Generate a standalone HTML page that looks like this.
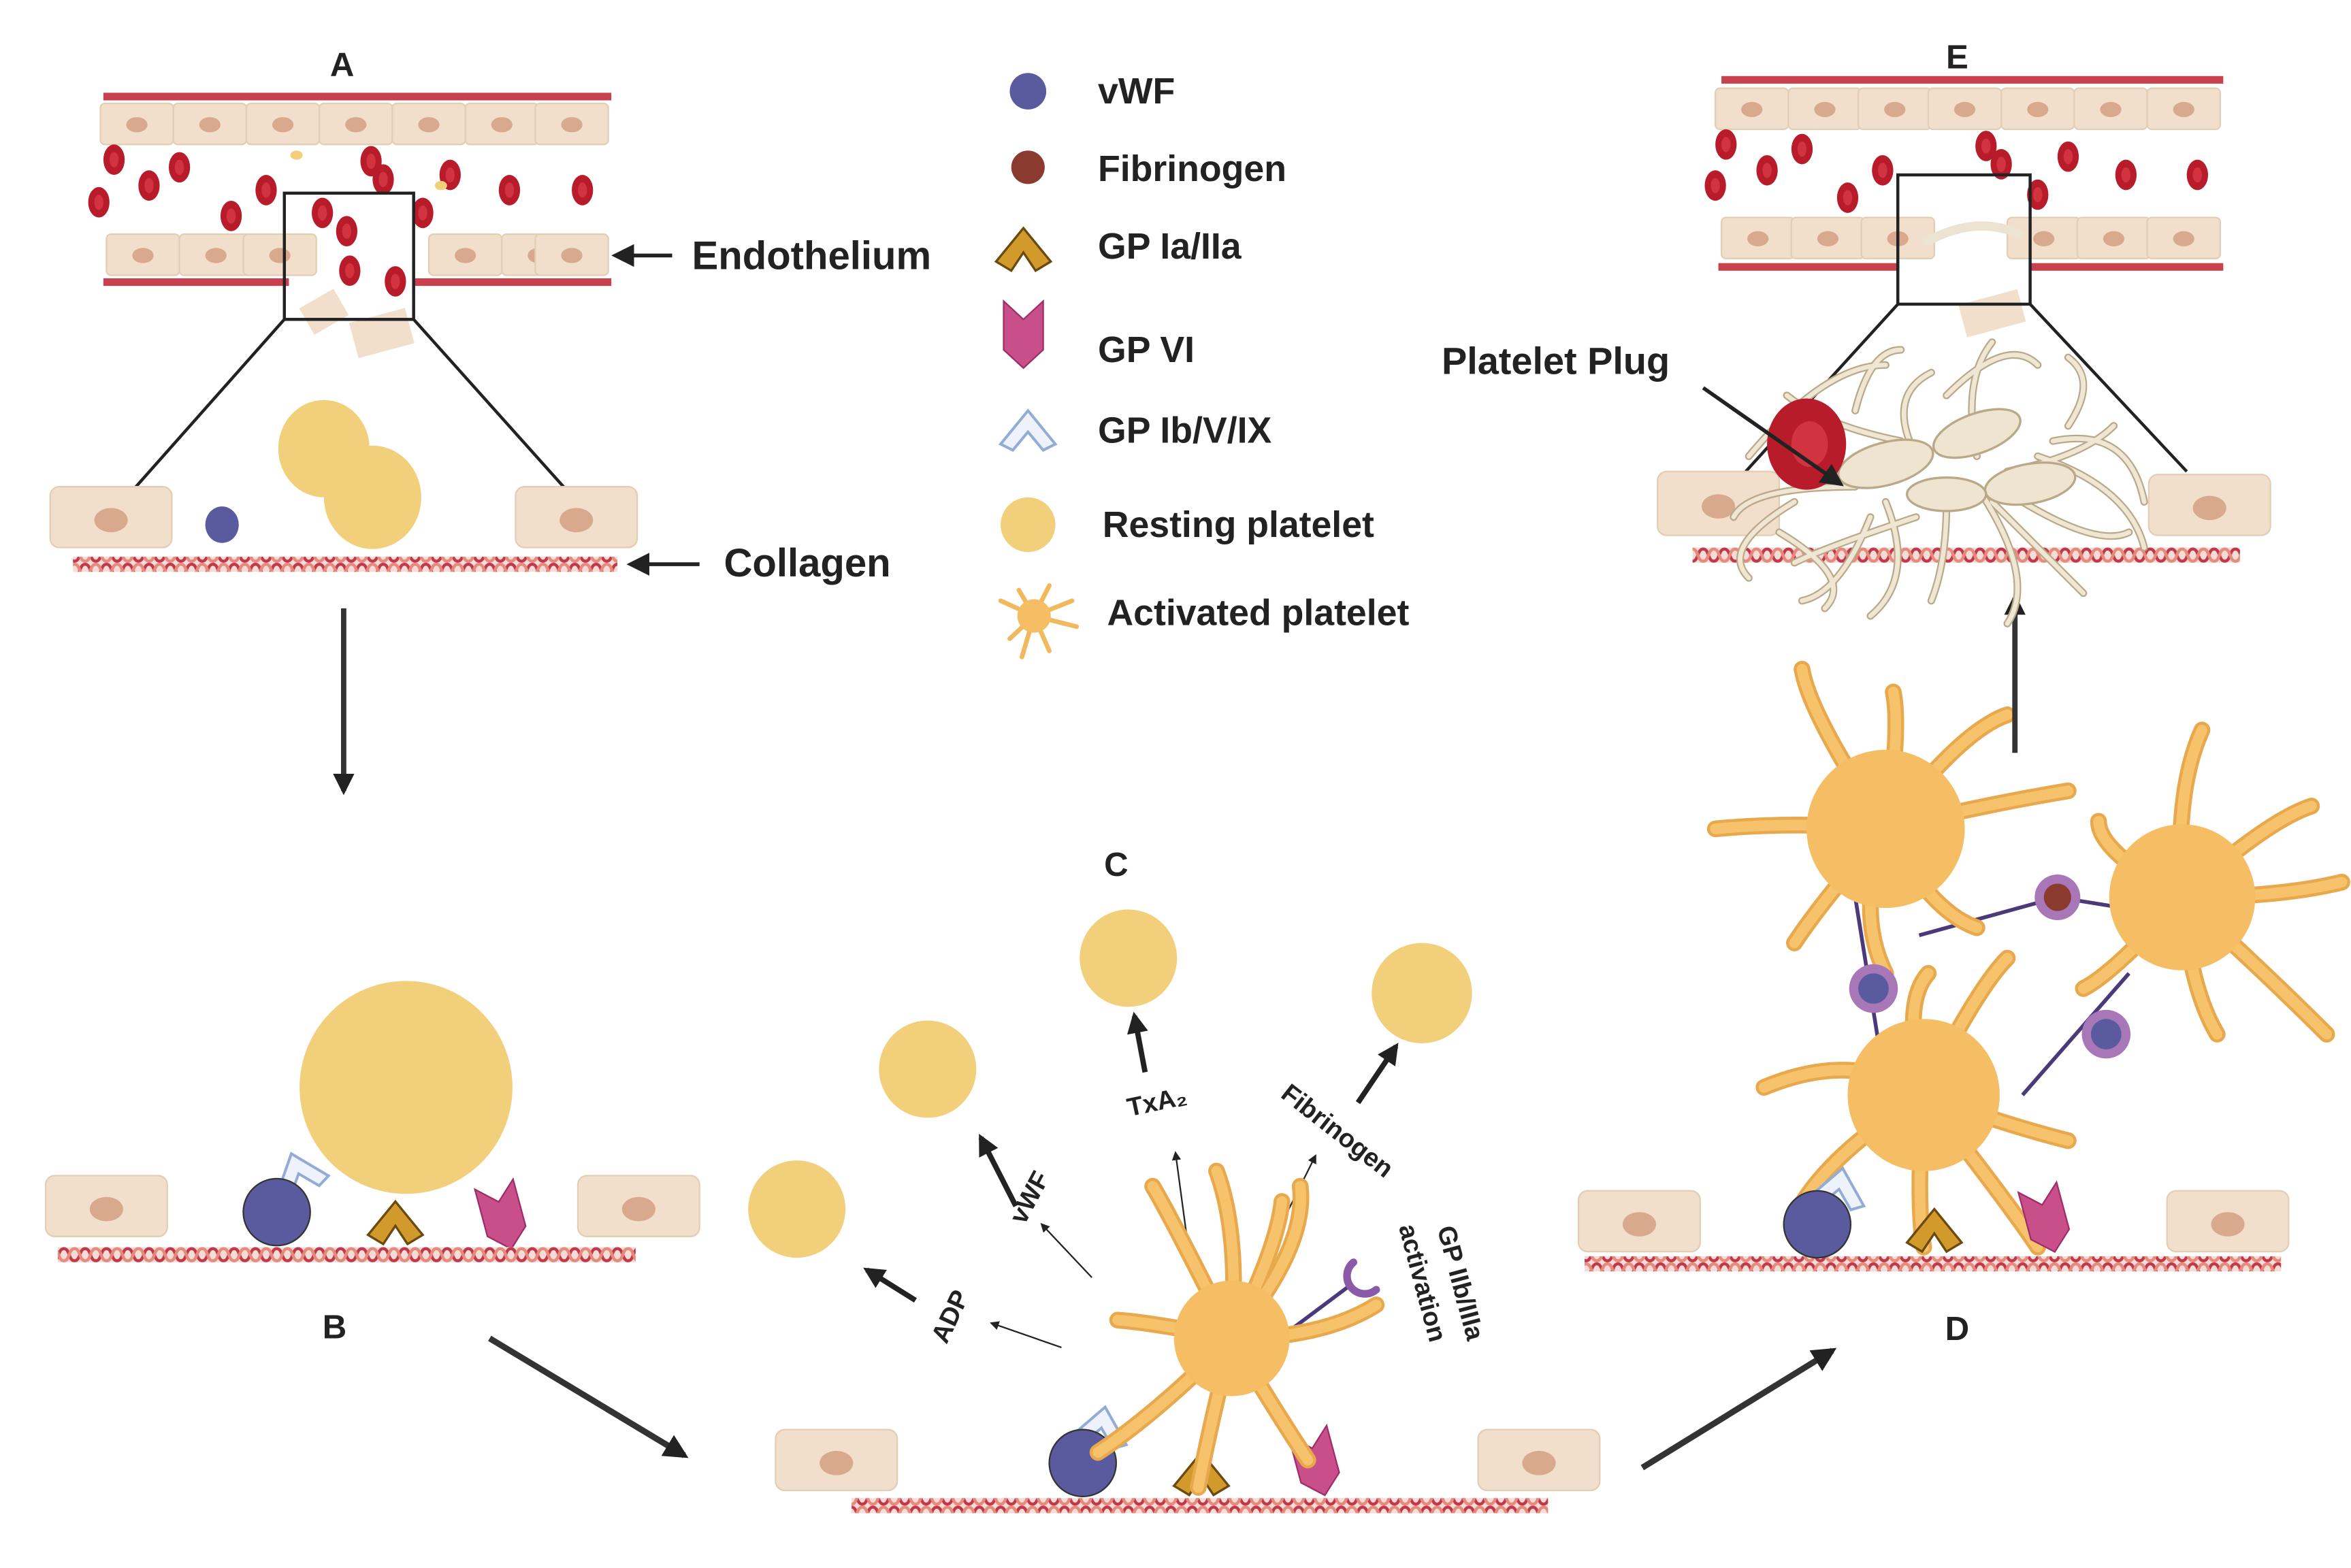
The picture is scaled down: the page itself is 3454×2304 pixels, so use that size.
<!DOCTYPE html>
<html><head><meta charset="utf-8">
<style>
html,body{margin:0;padding:0;background:#fff;}
svg{display:block;}
text{font-family:"Liberation Sans",sans-serif;font-weight:bold;fill:#222;}
</style></head>
<body>
<svg width="3454" height="2304" viewBox="0 0 1546 1031" preserveAspectRatio="none" xmlns="http://www.w3.org/2000/svg">
<defs>
<pattern id="col" width="14" height="10" patternUnits="userSpaceOnUse">
<rect width="14" height="10" fill="#f6dcd6"/>
<path d="M0 1 C4 1 3 9 7 9 S10 1 14 1" stroke="#c0394a" stroke-width="2" fill="none"/>
<path d="M0 9 C4 9 3 1 7 1 S10 9 14 9" stroke="#e58a7c" stroke-width="2" fill="none"/>
</pattern>
<marker id="ah" viewBox="0 0 10 10" refX="8" refY="5" markerWidth="4" markerHeight="4" orient="auto"><path d="M0 0L10 5L0 10z" fill="#222"/></marker>
<marker id="ahs" viewBox="0 0 10 10" refX="8" refY="5" markerWidth="6" markerHeight="6" orient="auto"><path d="M0 0L10 5L0 10z" fill="#222"/></marker>
<g id="cell"><rect x="0" y="0" width="80" height="40" rx="6" fill="#f1dfcc" stroke="#e2cdb5"/><ellipse cx="40" cy="22" rx="11" ry="8" fill="#d9a98e"/></g>
<g id="scell"><rect x="0" y="0" width="48" height="27" rx="3" fill="#f1dfcc" stroke="#e2cdb5"/><ellipse cx="24" cy="14" rx="7" ry="5" fill="#d9a98e"/></g>
<g id="rbc"><ellipse cx="0" cy="0" rx="7" ry="10" fill="#b81c2a"/><ellipse cx="0" cy="0" rx="3" ry="5" fill="#d23340"/></g>
<g id="gpia"><path d="M-18 12 L0 -10 L18 12 L8 18 L0 6 L-8 18Z" fill="#d19a2a" stroke="#6b4a10" stroke-width="1.5"/></g>
<g id="gpvi"><path d="M-13 -20 L0 -8 L13 -20 L13 12 L0 24 L-13 12Z" fill="#c94f8a" stroke="#9c2d66" stroke-width="1"/></g>
<g id="gpib"><path d="M-18 12 L0 -10 L18 12 L10 16 L0 4 L-10 16Z" fill="#eef3fb" stroke="#93acd6" stroke-width="1.8"/></g>
</defs>

<!-- PANEL A -->
<text x="225" y="50" font-size="22" text-anchor="middle">A</text>
<rect x="68" y="61" width="334" height="5" fill="#c8414e"/>
<g>
<use href="#scell" x="66" y="68"/><use href="#scell" x="114" y="68"/><use href="#scell" x="162" y="68"/><use href="#scell" x="210" y="68"/><use href="#scell" x="258" y="68"/><use href="#scell" x="306" y="68"/><use href="#scell" x="352" y="68"/>
<use href="#scell" x="70" y="154"/><use href="#scell" x="118" y="154"/><use href="#scell" x="160" y="154"/><use href="#scell" x="282" y="154"/><use href="#scell" x="330" y="154"/><use href="#scell" x="352" y="154"/>
</g>
<rect x="68" y="183" width="122" height="5" fill="#c8414e"/><rect x="272" y="183" width="130" height="5" fill="#c8414e"/>
<g><use href="#rbc" x="75" y="105"/><use href="#rbc" x="98" y="122"/><use href="#rbc" x="118" y="110"/><use href="#rbc" x="65" y="133"/><use href="#rbc" x="152" y="142"/><use href="#rbc" x="175" y="125"/><use href="#rbc" x="212" y="140"/><use href="#rbc" x="228" y="152"/><use href="#rbc" x="244" y="106"/><use href="#rbc" x="252" y="118"/><use href="#rbc" x="296" y="115"/><use href="#rbc" x="278" y="140"/><use href="#rbc" x="335" y="125"/><use href="#rbc" x="383" y="125"/><use href="#rbc" x="230" y="178"/><use href="#rbc" x="260" y="185"/></g>
<ellipse cx="195" cy="102" rx="4" ry="3" fill="#f2cf7a"/><ellipse cx="290" cy="122" rx="4" ry="3" fill="#f2cf7a"/>
<rect x="200" y="195" width="26" height="20" fill="#f1dfcc" transform="rotate(-30 213 205)"/>
<rect x="232" y="207" width="38" height="24" fill="#f1dfcc" transform="rotate(-15 251 219)"/>
<rect x="187" y="127" width="85" height="83" fill="none" stroke="#222" stroke-width="2"/>
<line x1="187" y1="210" x2="85" y2="325" stroke="#222" stroke-width="2"/>
<line x1="272" y1="210" x2="375" y2="325" stroke="#222" stroke-width="2"/>
<use href="#cell" x="33" y="320"/><use href="#cell" x="339" y="320"/>
<ellipse cx="146" cy="345" rx="11" ry="12" fill="#5a5a9f"/>
<ellipse cx="213" cy="295" rx="30" ry="32" fill="#f2cf7a"/><ellipse cx="245" cy="327" rx="32" ry="34" fill="#f2cf7a"/>
<rect x="48" y="366" width="358" height="10" fill="url(#col)"/>
<line x1="442" y1="168" x2="405" y2="168" stroke="#222" stroke-width="2.5" marker-end="url(#ahs)"/>
<text x="455" y="177" font-size="26">Endothelium</text>
<line x1="460" y1="371" x2="415" y2="371" stroke="#222" stroke-width="2.5" marker-end="url(#ahs)"/>
<text x="476" y="379" font-size="26">Collagen</text>
<line x1="226" y1="400" x2="226" y2="520" stroke="#333" stroke-width="3.5" marker-end="url(#ah)"/>

<!-- LEGEND -->
<circle cx="676" cy="60" r="12" fill="#5a5a9f"/><text x="722" y="68" font-size="24">vWF</text>
<circle cx="676" cy="110" r="11" fill="#8b3a30"/><text x="722" y="119" font-size="24">Fibrinogen</text>
<use href="#gpia" x="673" y="160"/><text x="722" y="170" font-size="24">GP Ia/IIa</text>
<use href="#gpvi" x="673" y="218"/><text x="722" y="238" font-size="24">GP VI</text>
<use href="#gpib" x="676" y="280"/><text x="722" y="291" font-size="24">GP Ib/V/IX</text>
<circle cx="676" cy="345" r="18" fill="#f2cf7a"/><text x="725" y="353" font-size="24">Resting platelet</text>
<g stroke="#f1b85e" stroke-width="3" stroke-linecap="round" fill="none">
<path d="M680 405 L658 395 M680 405 L664 420 M680 405 L670 388 M680 405 L690 385 M680 405 L705 395 M680 405 L708 412 M680 405 L690 428 M680 405 L672 432"/></g>
<circle cx="680" cy="405" r="11" fill="#f5bd64"/>
<text x="728" y="411" font-size="24">Activated platelet</text>

<!-- PANEL B -->
<use href="#cell" x="30" y="773"/><use href="#cell" x="380" y="773"/>
<circle cx="267" cy="715" r="70" fill="#f2cf7a"/>
<use href="#gpib" x="195" y="768" transform="rotate(-20 195 768)"/>
<circle cx="182" cy="797" r="22" fill="#5a5a9f" stroke="#333" stroke-width="1"/>
<use href="#gpia" x="260" y="800"/>
<use href="#gpvi" x="330" y="798" transform="rotate(-15 330 798)"/>
<rect x="38" y="820" width="380" height="10" fill="url(#col)"/>
<text x="220" y="880" font-size="22" text-anchor="middle">B</text>
<line x1="322" y1="880" x2="450" y2="957" stroke="#333" stroke-width="4" marker-end="url(#ah)"/>

<!-- PANEL C -->
<text x="734" y="576" font-size="22" text-anchor="middle">C</text>
<circle cx="742" cy="630" r="32" fill="#f2cf7a"/><circle cx="610" cy="703" r="32" fill="#f2cf7a"/>
<circle cx="524" cy="795" r="32" fill="#f2cf7a"/><circle cx="935" cy="653" r="33" fill="#f2cf7a"/>
<use href="#cell" x="510" y="940"/><use href="#cell" x="972" y="940"/>
<rect x="560" y="985" width="458" height="10" fill="url(#col)"/>
<g stroke="#222" fill="none">
<line x1="753" y1="705" x2="746" y2="668" stroke-width="3.5" marker-end="url(#ah)"/>
<line x1="668" y1="793" x2="645" y2="748" stroke-width="3.5" marker-end="url(#ah)"/>
<line x1="602" y1="855" x2="570" y2="835" stroke-width="3.5" marker-end="url(#ah)"/>
<line x1="893" y1="725" x2="918" y2="688" stroke-width="3.5" marker-end="url(#ah)"/>
<line x1="698" y1="886" x2="652" y2="870" stroke-width="1" marker-end="url(#ahs)"/>
<line x1="718" y1="840" x2="685" y2="805" stroke-width="1" marker-end="url(#ahs)"/>
<line x1="780" y1="810" x2="773" y2="758" stroke-width="1" marker-end="url(#ahs)"/>
<line x1="845" y1="800" x2="865" y2="760" stroke-width="1" marker-end="url(#ahs)"/>
</g>
<text x="762" y="730" font-size="17" transform="rotate(-12 762 730)" text-anchor="middle">TxA₂</text>
<text x="682" y="790" font-size="17" transform="rotate(-62 682 790)" text-anchor="middle">vWF</text>
<text x="630" y="868" font-size="17" transform="rotate(-65 630 868)" text-anchor="middle">ADP</text>
<text x="876" y="748" font-size="17" transform="rotate(38 876 748)" text-anchor="middle">Fibrinogen</text>
<text x="955" y="845" font-size="17" transform="rotate(75 955 845)" text-anchor="middle">GP IIb/IIIa</text>
<text x="930" y="845" font-size="17" transform="rotate(75 930 845)" text-anchor="middle">activation</text>
<use href="#gpib" x="725" y="935" transform="rotate(10 725 935)"/>
<circle cx="712" cy="962" r="22" fill="#5a5a9f" stroke="#333" stroke-width="1"/>
<use href="#gpia" x="790" y="965"/>
<use href="#gpvi" x="865" y="960" transform="rotate(-15 865 960)"/>
<line x1="848" y1="875" x2="888" y2="845" stroke="#4a3a7a" stroke-width="2.5"/>
<path d="M890 830 A10 10 0 1 0 905 848" stroke="#8a5aa8" stroke-width="5" fill="none" stroke-linecap="round"/>
<g stroke-linecap="round" fill="none">
<g stroke="#e8a84c" stroke-width="11">
<path d="M810 880 Q760 870 735 868 M810 880 Q770 800 758 780 M810 880 Q815 810 800 770 M810 880 Q840 820 843 790 M810 880 Q860 820 855 780 M810 880 Q870 880 905 858 M810 880 Q760 930 722 955 M810 880 Q795 940 788 978 M810 880 Q840 930 860 960"/></g>
<g stroke="#f6c26c" stroke-width="7">
<path d="M810 880 Q760 870 735 868 M810 880 Q770 800 758 780 M810 880 Q815 810 800 770 M810 880 Q840 820 843 790 M810 880 Q860 820 855 780 M810 880 Q870 880 905 858 M810 880 Q760 930 722 955 M810 880 Q795 940 788 978 M810 880 Q840 930 860 960"/></g>
</g>
<circle cx="810" cy="880" r="38" fill="#f5bd64"/>
<line x1="1080" y1="965" x2="1205" y2="888" stroke="#333" stroke-width="4" marker-end="url(#ah)"/>

<!-- PANEL D -->
<use href="#cell" x="1038" y="783"/><use href="#cell" x="1425" y="783"/>
<rect x="1042" y="826" width="458" height="10" fill="url(#col)"/>
<text x="1287" y="881" font-size="22" text-anchor="middle">D</text>
<g stroke="#4a3a7a" stroke-width="2.5">
<line x1="1262" y1="615" x2="1353" y2="590"/><line x1="1353" y1="590" x2="1415" y2="600"/>
<line x1="1220" y1="590" x2="1240" y2="715"/><line x1="1330" y1="720" x2="1400" y2="640"/>
</g>
<g stroke-linecap="round" fill="none">
<g stroke="#e8a84c" stroke-width="11">
<path d="M1240 545 Q1190 470 1185 440 M1240 545 Q1250 480 1245 455 M1240 545 Q1290 480 1320 470 M1240 545 Q1300 530 1360 520 M1240 545 Q1180 540 1128 545 M1240 545 Q1200 590 1180 620 M1240 545 Q1270 600 1300 610 M1240 545 Q1220 600 1240 640"/>
<path d="M1435 590 Q1430 520 1448 480 M1435 590 Q1490 540 1520 530 M1435 590 Q1500 590 1540 580 M1435 590 Q1490 640 1530 680 M1435 590 Q1440 650 1458 680 M1435 590 Q1390 640 1370 650 M1435 590 Q1380 560 1380 540"/>
<path d="M1265 720 Q1300 650 1320 630 M1265 720 Q1220 690 1160 715 M1265 720 Q1250 660 1268 640 M1265 720 Q1320 740 1360 750 M1265 720 Q1200 760 1180 800 M1265 720 Q1260 790 1265 820 M1265 720 Q1320 790 1340 820"/></g>
<g stroke="#f6c26c" stroke-width="7">
<path d="M1240 545 Q1190 470 1185 440 M1240 545 Q1250 480 1245 455 M1240 545 Q1290 480 1320 470 M1240 545 Q1300 530 1360 520 M1240 545 Q1180 540 1128 545 M1240 545 Q1200 590 1180 620 M1240 545 Q1270 600 1300 610 M1240 545 Q1220 600 1240 640"/>
<path d="M1435 590 Q1430 520 1448 480 M1435 590 Q1490 540 1520 530 M1435 590 Q1500 590 1540 580 M1435 590 Q1490 640 1530 680 M1435 590 Q1440 650 1458 680 M1435 590 Q1390 640 1370 650 M1435 590 Q1380 560 1380 540"/>
<path d="M1265 720 Q1300 650 1320 630 M1265 720 Q1220 690 1160 715 M1265 720 Q1250 660 1268 640 M1265 720 Q1320 740 1360 750 M1265 720 Q1200 760 1180 800 M1265 720 Q1260 790 1265 820 M1265 720 Q1320 790 1340 820"/></g>
</g>
<circle cx="1240" cy="545" r="52" fill="#f5bd64"/>
<circle cx="1435" cy="590" r="48" fill="#f5bd64"/>
<circle cx="1265" cy="720" r="50" fill="#f5bd64"/>
<circle cx="1353" cy="590" r="15" fill="#a877b8"/><circle cx="1353" cy="590" r="9" fill="#8b3a30"/>
<circle cx="1232" cy="650" r="16" fill="#a877b8"/><circle cx="1232" cy="650" r="10" fill="#5a5a9f"/>
<circle cx="1385" cy="680" r="16" fill="#a877b8"/><circle cx="1385" cy="680" r="10" fill="#5a5a9f"/>
<use href="#gpib" x="1210" y="778" transform="rotate(10 1210 778)"/>
<circle cx="1195" cy="805" r="22" fill="#5a5a9f" stroke="#333" stroke-width="1"/>
<use href="#gpia" x="1272" y="805"/>
<use href="#gpvi" x="1345" y="800" transform="rotate(-15 1345 800)"/>
<line x1="1325" y1="495" x2="1325" y2="393" stroke="#333" stroke-width="3.5" marker-end="url(#ah)"/>

<!-- PANEL E -->
<text x="1287" y="45" font-size="22" text-anchor="middle">E</text>
<rect x="1132" y="50" width="330" height="5" fill="#c8414e"/>
<use href="#scell" x="1128" y="58"/><use href="#scell" x="1176" y="58"/><use href="#scell" x="1222" y="58"/><use href="#scell" x="1268" y="58"/><use href="#scell" x="1316" y="58"/><use href="#scell" x="1364" y="58"/><use href="#scell" x="1412" y="58"/>
<use href="#scell" x="1132" y="143"/><use href="#scell" x="1178" y="143"/><use href="#scell" x="1224" y="143"/><use href="#scell" x="1320" y="143"/><use href="#scell" x="1366" y="143"/><use href="#scell" x="1412" y="143"/>
<rect x="1130" y="173" width="118" height="5" fill="#c8414e"/><rect x="1335" y="173" width="127" height="5" fill="#c8414e"/>
<use href="#rbc" x="1135" y="95"/><use href="#rbc" x="1162" y="112"/><use href="#rbc" x="1185" y="98"/><use href="#rbc" x="1128" y="122"/><use href="#rbc" x="1215" y="130"/><use href="#rbc" x="1238" y="112"/><use href="#rbc" x="1306" y="96"/><use href="#rbc" x="1316" y="108"/><use href="#rbc" x="1340" y="128"/><use href="#rbc" x="1360" y="103"/><use href="#rbc" x="1398" y="115"/><use href="#rbc" x="1445" y="115"/>
<path d="M1265 160 Q1300 140 1330 155" stroke="#ece3d0" stroke-width="6" fill="none"/>
<rect x="1290" y="195" width="40" height="22" fill="#f1dfcc" transform="rotate(-15 1310 206)"/>
<rect x="1248" y="115" width="87" height="85" fill="none" stroke="#222" stroke-width="2"/>
<line x1="1248" y1="200" x2="1148" y2="310" stroke="#222" stroke-width="2"/>
<line x1="1335" y1="200" x2="1438" y2="310" stroke="#222" stroke-width="2"/>
<rect x="1090" y="310" width="80" height="42" rx="6" fill="#f1dfcc" stroke="#e2cdb5"/><ellipse cx="1130" cy="333" rx="11" ry="8" fill="#d9a98e"/>
<use href="#cell" x="1413" y="312"/>
<rect x="1113" y="360" width="360" height="10" fill="url(#col)"/>
<g id="plugT">
<g stroke="#b9a988" stroke-width="5" stroke-linecap="round" fill="none">
<path d="M1150 300 Q1200 240 1240 240 M1170 350 Q1220 380 1200 400 M1240 330 Q1260 380 1230 405 M1300 320 Q1340 380 1320 410 M1350 290 Q1400 280 1410 330 M1280 260 Q1320 220 1340 240 M1220 270 Q1230 230 1250 230 M1180 330 Q1130 360 1150 380 M1330 330 Q1380 360 1400 350 M1260 340 Q1200 360 1180 370 M1300 300 Q1290 250 1310 225 M1260 300 Q1240 260 1270 245 M1320 310 Q1370 300 1390 280 M1220 320 Q1150 320 1140 340 M1280 330 Q1280 370 1270 395 M1340 300 Q1400 320 1410 360 M1250 290 Q1200 280 1175 260 M1360 280 Q1380 250 1360 235 M1230 340 Q1210 390 1185 395 M1310 330 Q1350 370 1370 390"/></g>
<g stroke="#efe6d3" stroke-width="3" stroke-linecap="round" fill="none">
<path d="M1150 300 Q1200 240 1240 240 M1170 350 Q1220 380 1200 400 M1240 330 Q1260 380 1230 405 M1300 320 Q1340 380 1320 410 M1350 290 Q1400 280 1410 330 M1280 260 Q1320 220 1340 240 M1220 270 Q1230 230 1250 230 M1180 330 Q1130 360 1150 380 M1330 330 Q1380 360 1400 350 M1260 340 Q1200 360 1180 370 M1300 300 Q1290 250 1310 225 M1260 300 Q1240 260 1270 245 M1320 310 Q1370 300 1390 280 M1220 320 Q1150 320 1140 340 M1280 330 Q1280 370 1270 395 M1340 300 Q1400 320 1410 360 M1250 290 Q1200 280 1175 260 M1360 280 Q1380 250 1360 235 M1230 340 Q1210 390 1185 395 M1310 330 Q1350 370 1370 390"/></g>
</g>
<g fill="#eee4cf" stroke="#b9a988" stroke-width="1.5">
<ellipse cx="1240" cy="305" rx="32" ry="14" transform="rotate(-15 1240 305)"/>
<ellipse cx="1300" cy="285" rx="30" ry="13" transform="rotate(-20 1300 285)"/>
<ellipse cx="1335" cy="318" rx="30" ry="13" transform="rotate(-10 1335 318)"/>
<ellipse cx="1280" cy="325" rx="26" ry="11"/>
</g>
<ellipse cx="1188" cy="292" rx="26" ry="30" fill="#b81c2a"/><ellipse cx="1190" cy="292" rx="12" ry="15" fill="#d23340"/>
<text x="948" y="246" font-size="25">Platelet Plug</text>
<line x1="1120" y1="255" x2="1210" y2="318" stroke="#222" stroke-width="2.5" marker-end="url(#ahs)"/>
</svg>
</body></html>
